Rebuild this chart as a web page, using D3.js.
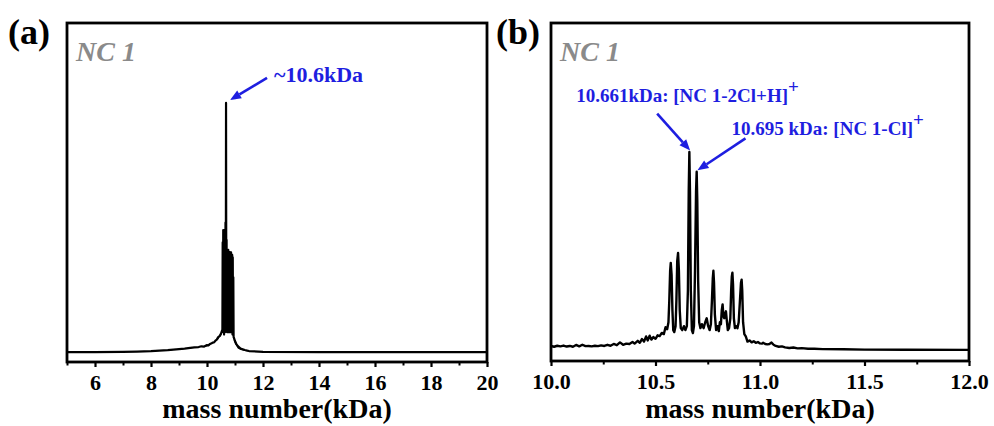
<!DOCTYPE html>
<html>
<head>
<meta charset="utf-8">
<script src="https://cdn.jsdelivr.net/npm/d3@7"></script>
<style>
  html, body { margin: 0; padding: 0; background: #fff; }
  svg { display: block; }
</style>
</head>
<body>
<svg id="chart" width="994" height="426"></svg>
<script>
// ---- Panel (a): full-range mass spectrum, 5–20 kDa (relative intensity) ----
const massA = [
  5.0, 6.0, 7.0, 7.5, 8.0, 8.3, 8.6, 8.8, 9.0, 9.2, 9.4, 9.55, 9.7, 9.8, 9.9, 10.0,
  10.05, 10.1, 10.15, 10.2, 10.25, 10.3, 10.35, 10.4, 10.45, 10.5, 10.53,
  10.55, 10.56, 10.57, 10.58, 10.59, 10.60, 10.61, 10.62, 10.63, 10.64, 10.65,
  10.66, 10.67, 10.68, 10.69, 10.70, 10.71, 10.72, 10.73, 10.74, 10.75, 10.76,
  10.77, 10.78, 10.79, 10.80, 10.81, 10.82, 10.83, 10.84, 10.85, 10.86, 10.87,
  10.88, 10.89, 10.90, 10.91, 10.92, 10.93, 10.94, 10.95,
  10.96, 11.0, 11.05, 11.1, 11.2, 11.35, 11.5, 12.0, 14.0, 20.0
];
const intensityA = [
  0, 0, 0.1, 0.2, 0.4, 0.6, 0.8, 1.0, 1.2, 1.4, 1.7, 1.9, 2.0, 2.3, 2.2, 2.8,
  2.7, 3.2, 3.4, 3.8, 3.9, 4.6, 5.0, 6.0, 6.4, 7.4, 8.4,
  9, 44, 8, 49, 8, 48, 7, 49, 8, 48, 8,
  52, 9, 100, 9, 45, 8, 40, 8, 40, 8, 41,
  8, 40, 8, 40, 8, 40, 8, 40, 8, 40, 8,
  39, 8, 39, 7, 38, 7, 30, 6,
  5.8, 4.4, 3.2, 2.4, 1.4, 0.8, 0.4, 0.1, 0, 0
];
const ticksA = [6, 8, 10, 12, 14, 16, 18, 20];
const minorTicksA = [5, 7, 9, 11, 13, 15, 17, 19];

// ---- Panel (b): zoom on the cluster region, 10–12 kDa ----
const massB = [
  10.000, 10.015, 10.030, 10.045, 10.060, 10.075, 10.090, 10.105, 10.120, 10.135,
  10.150, 10.165, 10.180, 10.195, 10.210, 10.225, 10.240, 10.255, 10.270, 10.285,
  10.300, 10.315, 10.330, 10.345, 10.360, 10.375, 10.390, 10.400, 10.415, 10.425,
  10.435, 10.445, 10.455, 10.463, 10.472, 10.480, 10.490, 10.500, 10.510, 10.520,
  10.530, 10.540, 10.548, 10.556, 10.562, 10.566, 10.570, 10.573, 10.577, 10.581,
  10.585, 10.590, 10.596, 10.600, 10.604, 10.608, 10.612, 10.616, 10.621, 10.628,
  10.636, 10.643, 10.650, 10.655, 10.659, 10.662, 10.665, 10.669, 10.674, 10.679,
  10.684, 10.689, 10.694, 10.697, 10.700, 10.704, 10.709, 10.715, 10.722, 10.730,
  10.738, 10.745, 10.752, 10.759, 10.765, 10.770, 10.774, 10.777, 10.780, 10.784,
  10.790, 10.797, 10.803, 10.808, 10.813, 10.817, 10.821, 10.825, 10.829, 10.833,
  10.837, 10.841, 10.846, 10.852, 10.858, 10.862, 10.865, 10.868, 10.871, 10.875,
  10.880, 10.886, 10.892, 10.898, 10.904, 10.909, 10.912, 10.915, 10.919, 10.925,
  10.932, 10.940, 10.950, 10.960, 10.970, 10.980, 10.990, 11.000, 11.010, 11.015,
  11.025, 11.035, 11.045, 11.055, 11.065, 11.075, 11.090, 11.105, 11.120, 11.140,
  11.160, 11.180, 11.200, 11.230, 11.260, 11.300, 11.400, 11.500, 11.700, 12.000
];
const intensityB = [
  2.0, 1.6, 2.1, 1.8, 2.2, 1.7, 2.0, 1.6, 2.5, 1.8,
  2.6, 1.9, 2.0, 1.8, 2.1, 1.9, 2.3, 2.0, 2.6, 2.1,
  3.0, 2.4, 3.8, 2.6, 3.2, 3.0, 4.0, 3.2, 4.6, 3.6,
  5.5, 4.2, 6.8, 4.8, 7.2, 5.2, 6.5, 5.6, 7.4, 7.0,
  8.6, 8.0, 11.5, 10.5, 14, 25, 40, 44, 38, 20,
  10, 9, 12, 25, 45, 49, 40, 20, 11, 10,
  12, 10, 12, 30, 80, 100, 80, 30, 10, 8.5,
  12, 40, 80, 90, 75, 35, 14, 11, 13, 11,
  14, 16, 12, 10, 13, 25, 36, 40, 34, 18,
  10, 12, 9.5, 14, 13, 20, 23, 17, 16, 18,
  19.5, 15, 10, 11, 16, 30, 37, 39, 33, 16,
  11, 12, 11, 14, 25, 34, 35.5, 30, 14, 8,
  6.8, 4.2, 4.8, 3.8, 4.4, 3.6, 4.0, 3.3, 3.2, 3.6,
  3.0, 2.8, 3.0, 3.7, 2.6, 2.0, 1.6, 1.8, 1.3, 1.0,
  1.2, 0.8, 0.9, 0.6, 0.6, 0.4, 0.3, 0.15, 0.05, 0
];
const ticksB = [10.0, 10.5, 11.0, 11.5, 12.0];
const minorTicksB = [10.25, 10.75, 11.25, 11.75];

// Peak annotations
const labelA = ["~10.6kDa"];
const peakA = [{ mass: 10.68, value: 100 }];
const labelsB = [
  { main: "10.661kDa: [NC 1-2Cl+H]", sup: "+" },
  { main: "10.695 kDa: [NC 1-Cl]", sup: "+" }
];
const peaksB = [{ mass: 10.662, value: 100 }, { mass: 10.697, value: 90 }];

const FONT = "'Liberation Serif', 'Times New Roman', Times, serif";
const BLUE = "#1e1ee0";
const GREY = "#8a8a8a";

const svg = d3.select("#chart");

function drawArrow(g, x1, y1, x2, y2) {
  const ang = Math.atan2(y2 - y1, x2 - x1);
  const len = 11, half = 4.5;
  const bx = x2 - len * Math.cos(ang), by = y2 - len * Math.sin(ang);
  g.append("line")
    .attr("x1", x1).attr("y1", y1).attr("x2", bx).attr("y2", by)
    .attr("stroke", BLUE).attr("stroke-width", 2.6);
  const px = -Math.sin(ang) * half, py = Math.cos(ang) * half;
  g.append("path")
    .attr("d", `M${x2},${y2}L${bx + px},${by + py}L${bx - px},${by - py}Z`)
    .attr("fill", BLUE);
}

function panel(cfg) {
  const g = svg.append("g");
  const x = d3.scaleLinear().domain(cfg.xDomain).range([cfg.left, cfg.right]);
  const y = d3.scaleLinear().domain(cfg.yDomain).range([cfg.bottom, cfg.top]);

  const clipId = "clip-" + cfg.id;
  svg.append("clipPath").attr("id", clipId)
    .append("rect")
    .attr("x", cfg.left).attr("y", cfg.top)
    .attr("width", cfg.right - cfg.left).attr("height", cfg.bottom - cfg.top);

  const pts = cfg.mass.map((m, i) => [m, cfg.intensity[i]]);
  const trace = g.append("g").attr("clip-path", `url(#${clipId})`);

  if (cfg.packed) {
    // unresolved cluster of peaks: fill the band between the valleys and the
    // lower of the two neighbouring peaks so it reads as one solid block
    const n = pts.length;
    const prev = i => pts[Math.max(0, i - 1)][1];
    const next = i => pts[Math.min(n - 1, i + 1)][1];
    const isValley = i => pts[i][1] <= prev(i) && pts[i][1] <= next(i);
    const top = pts.map((d, i) => isValley(i) ? Math.min(prev(i), next(i)) : d[1]);
    const bottom = pts.map((d, i) => isValley(i) ? d[1] : Math.min(d[1], prev(i), next(i)));
    trace.append("path")
      .datum(pts)
      .attr("d", d3.area()
        .x(d => x(d[0]))
        .y0((d, i) => y(bottom[i]))
        .y1((d, i) => y(top[i])))
      .attr("fill", "#000");
  }

  trace.append("path")
    .datum(pts)
    .attr("d", d3.line().x(d => x(d[0])).y(d => y(d[1])))
    .attr("fill", "none")
    .attr("stroke", "#000")
    .attr("stroke-width", cfg.lineWidth)
    .attr("stroke-linejoin", "round");

  // minor ticks (no labels)
  const minorAxis = g.append("g")
    .attr("transform", `translate(0,${cfg.bottom})`)
    .call(d3.axisBottom(x).tickValues(cfg.minor).tickSize(3.5).tickFormat(""));
  minorAxis.select(".domain").remove();
  minorAxis.selectAll("text").remove();
  minorAxis.selectAll("line").attr("stroke", "#000").attr("stroke-width", 2);

  // major ticks + labels
  g.append("g")
    .attr("transform", `translate(0,${cfg.bottom})`)
    .call(d3.axisBottom(x).tickValues(cfg.ticks).tickSize(5).tickPadding(7.5)
      .tickFormat(cfg.fmt))
    .call(a => a.select(".domain").remove())
    .call(a => a.selectAll("line").attr("stroke", "#000").attr("stroke-width", 2.2))
    .call(a => a.selectAll("text")
      .attr("fill", "#000")
      .style("font-family", FONT).style("font-weight", "bold").style("font-size", "22px"));

  // frame
  g.append("rect")
    .attr("x", cfg.left).attr("y", cfg.top)
    .attr("width", cfg.right - cfg.left).attr("height", cfg.bottom - cfg.top)
    .attr("fill", "none").attr("stroke", "#000").attr("stroke-width", 2.8);

  // axis title
  g.append("text")
    .attr("x", (cfg.left + cfg.right) / 2).attr("y", 418)
    .attr("text-anchor", "middle")
    .style("font-family", FONT).style("font-weight", "bold").style("font-size", "28px")
    .text("mass number(kDa)");

  // panel letter
  g.append("text")
    .attr("x", cfg.letterX).attr("y", 44)
    .style("font-family", FONT).style("font-weight", "bold").style("font-size", "36px")
    .text(cfg.letter);

  // sample name
  g.append("text")
    .attr("x", cfg.left + 9).attr("y", 61)
    .attr("fill", GREY)
    .style("font-family", FONT).style("font-weight", "bold").style("font-style", "italic")
    .style("font-size", "28px")
    .text("NC 1");

  return { g, x, y };
}

// Panel (a)
const pa = panel({
  id: "a", letter: "(a)", letterX: 8,
  left: 67, right: 487, top: 23, bottom: 362,
  xDomain: [5, 20], yDomain: [-4.0, 132.1],
  mass: massA, intensity: intensityA,
  ticks: ticksA, minor: minorTicksA, fmt: d3.format("d"),
  lineWidth: 2.2, packed: true
});

{
  const p = peakA[0];
  const tx = pa.x(p.mass) + 4, ty = pa.y(p.value) - 3;
  drawArrow(pa.g, tx + 37, ty - 22, tx, ty);
  pa.g.append("text")
    .attr("x", tx + 44).attr("y", ty - 18)
    .attr("fill", BLUE)
    .style("font-family", FONT).style("font-weight", "bold").style("font-size", "22px")
    .text(labelA[0]);
}

// Panel (b)
const pb = panel({
  id: "b", letter: "(b)", letterX: 496,
  left: 551, right: 969, top: 23, bottom: 361,
  xDomain: [10, 12], yDomain: [-5.6, 165.2],
  mass: massB, intensity: intensityB,
  ticks: ticksB, minor: minorTicksB, fmt: d3.format(".1f"),
  lineWidth: 2.4, packed: false
});

{
  // arrow start offsets and label anchors relative to each arrow tip
  const arrowFrom = [[-33, -37], [48, -32]];
  const labelAt = [[-114, -49], [34, -35]];
  peaksB.forEach((p, i) => {
    const tx = pb.x(p.mass) + 0.8, ty = pb.y(p.value) - 1.5;
    drawArrow(pb.g, tx + arrowFrom[i][0], ty + arrowFrom[i][1], tx, ty);
    const t = pb.g.append("text")
      .attr("x", tx + labelAt[i][0]).attr("y", ty + labelAt[i][1])
      .attr("fill", BLUE)
      .style("font-family", FONT).style("font-weight", "bold").style("font-size", "19px");
    t.append("tspan").text(labelsB[i].main);
    t.append("tspan").attr("dy", -9).style("font-size", "19px").text(labelsB[i].sup);
  });
}
</script>
</body>
</html>
